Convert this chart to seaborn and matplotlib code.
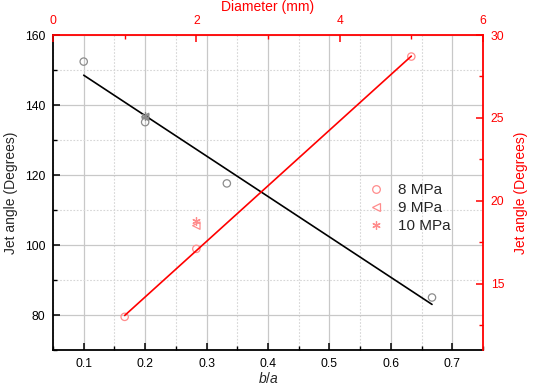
import matplotlib
matplotlib.use("Agg")
import matplotlib.pyplot as plt
from matplotlib.ticker import MultipleLocator
from matplotlib.lines import Line2D
import seaborn as sns
import pandas as pd

# ---- data ----
ba_8 = [0.1, 0.2, 0.333, 0.667]
angle_8 = [152.4, 135.1, 117.6, 85.0]
ba_9 = [0.2]
angle_9 = [136.6]
ba_10 = [0.2]
angle_10 = [137.0]

diam_8 = [1.0, 2.0, 5.0]
jet_8 = [13.0, 17.1, 28.7]
diam_9 = [2.0]
jet_9 = [18.5]
diam_10 = [2.0]
jet_10 = [18.8]

legend_labels = ["8 MPa", "9 MPa", "10 MPa"]

sns.set_theme(style="white")
plt.rcParams["font.family"] = ["Liberation Sans", "DejaVu Sans"]
plt.rcParams["mathtext.fontset"] = "custom"
plt.rcParams["mathtext.it"] = "Liberation Sans:italic"

fig = plt.figure(figsize=(5.33, 3.86), dpi=100)
pos = [53 / 533, 1 - 350 / 386, 430 / 533, 315 / 386]
ax = fig.add_axes(pos)
ax2 = fig.add_axes(pos, facecolor="none")

gray = "#8c8c8c"
lred = "#ff8c8c"
asterisk = (6, 2, 0)

df_ba = pd.DataFrame({"x": ba_8, "y": angle_8})
ax.set_xlim(0.05, 0.75)
ax.set_ylim(70, 160)
ax.xaxis.set_major_locator(MultipleLocator(0.1))
ax.xaxis.set_minor_locator(MultipleLocator(0.05))
ax.yaxis.set_major_locator(MultipleLocator(20))
ax.yaxis.set_minor_locator(MultipleLocator(10))
ax.grid(True, which="major", color="#c8c8c8", linewidth=0.9, linestyle="-")
ax.grid(True, which="minor", color="#d6d6d6", linewidth=0.8, linestyle=(0, (1.5, 1.5)))
ax.set_axisbelow(True)

sns.regplot(data=df_ba, x="x", y="y", ax=ax, scatter=False, ci=None, truncate=True,
            line_kws=dict(color="black", linewidth=1.2))
sns.scatterplot(x=ba_8, y=angle_8, ax=ax, marker="o", s=28, facecolor="none",
                edgecolor=gray, linewidth=0.9)
sns.scatterplot(x=ba_9, y=angle_9, ax=ax, marker="<", s=28, facecolor="none",
                edgecolor=gray, linewidth=0.9)
ax.plot(ba_10, angle_10, linestyle="none", marker=asterisk, markersize=6,
        color=gray, markeredgewidth=0.9)

df_d = pd.DataFrame({"x": diam_8, "y": jet_8})
sns.regplot(data=df_d, x="x", y="y", ax=ax2, scatter=False, ci=None, truncate=True,
            line_kws=dict(color="red", linewidth=1.2))
sns.scatterplot(x=diam_8, y=jet_8, ax=ax2, marker="o", s=28, facecolor="none",
                edgecolor=lred, linewidth=0.9)
sns.scatterplot(x=diam_9, y=jet_9, ax=ax2, marker="<", s=28, facecolor="none",
                edgecolor=lred, linewidth=0.9)
ax2.plot(diam_10, jet_10, linestyle="none", marker=asterisk, markersize=6,
         color=lred, markeredgewidth=0.9)

ax2.set_xlim(0, 6)
ax2.set_ylim(11, 30)
ax2.xaxis.set_major_locator(MultipleLocator(2))
ax2.xaxis.set_minor_locator(MultipleLocator(1))
ax2.yaxis.set_major_locator(MultipleLocator(5))
ax2.yaxis.set_minor_locator(MultipleLocator(2.5))
ax2.xaxis.tick_top()
ax2.yaxis.tick_right()
ax2.xaxis.set_label_position("top")
ax2.yaxis.set_label_position("right")

for s in ["top", "right"]:
    ax.spines[s].set_visible(False)
for s in ["left", "bottom"]:
    ax.spines[s].set_color("black")
    ax.spines[s].set_linewidth(1.3)
    ax2.spines[s].set_visible(False)
for s in ["top", "right"]:
    ax2.spines[s].set_color("red")
    ax2.spines[s].set_linewidth(1.3)

ax.tick_params(which="both", direction="in", colors="black", labelsize=8.7,
               left=True, bottom=True, top=False, right=False)
ax.tick_params(which="major", length=5, width=1.1, pad=5.5)
ax.tick_params(which="minor", length=2.8, width=1.0)
ax2.tick_params(which="both", direction="in", colors="red", labelsize=8.7,
                top=True, right=True, bottom=False, left=False,
                labeltop=True, labelright=True, labelbottom=False, labelleft=False)
ax2.tick_params(which="major", length=5, width=1.1, pad=5.5)
ax2.tick_params(which="minor", length=2.8, width=1.0)

ax.set_xlabel(r"$b$/$a$", fontsize=10, labelpad=1)
ax.set_ylabel("Jet angle (Degrees)", fontsize=10, labelpad=5)
ax2.set_xlabel("Diameter (mm)", fontsize=10, color="red", labelpad=3)
ax2.set_ylabel("Jet angle (Degrees)", fontsize=10, color="red", labelpad=7,
               rotation=90)

handles = [
    Line2D([], [], linestyle="none", marker="o", markersize=5.5, markerfacecolor="none",
           markeredgecolor=lred, markeredgewidth=0.9),
    Line2D([], [], linestyle="none", marker="<", markersize=5.5, markerfacecolor="none",
           markeredgecolor=lred, markeredgewidth=0.9),
    Line2D([], [], linestyle="none", marker=asterisk, markersize=6,
           color=lred, markeredgewidth=0.9),
]
ax2.legend(handles, legend_labels, loc="upper left",
           bbox_to_anchor=((368.4 - 53) / 430, (350 - 183.5) / 315),
           frameon=False, fontsize=11, handlelength=1.0, handletextpad=0.95,
           labelspacing=0.25, borderaxespad=0, borderpad=0)

fig.savefig("out.png", dpi=100)
